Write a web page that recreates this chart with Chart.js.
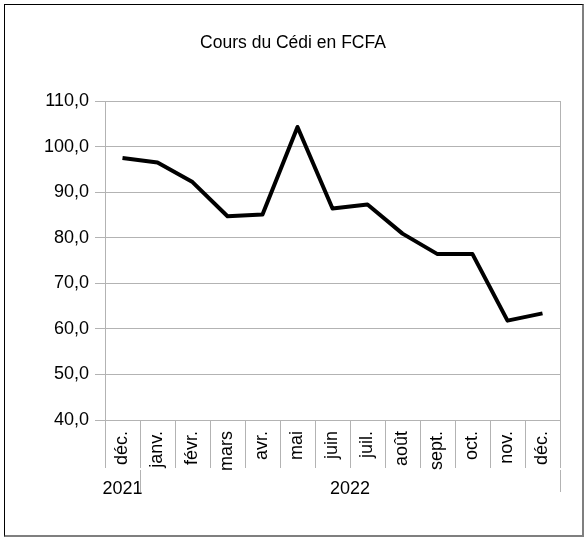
<!DOCTYPE html>
<html lang="fr">
<head>
<meta charset="utf-8">
<title>Cours du Cédi en FCFA</title>
<script src="https://cdn.jsdelivr.net/npm/chart.js@4/dist/chart.umd.min.js"></script>
<style>
  html, body { margin: 0; padding: 0; background: #fff; }
  #wrap { position: relative; width: 587px; height: 541px; }
  #frame {
    position: absolute; left: 4px; top: 4px; width: 577px; height: 530px;
    border-left: 1px solid #000; border-top: 1px solid #000;
    border-right: 2px solid #7f7f7f; border-bottom: 2px solid #7f7f7f;
    pointer-events: none;
  }
</style>
</head>
<body>
<div id="wrap">
  <canvas id="cediChart" width="587" height="541"></canvas>
  <div id="frame"></div>
</div>
<script>
/* ── Données ── */
const months = ['déc.', 'janv.', 'févr.', 'mars', 'avr.', 'mai', 'juin', 'juil.', 'août', 'sept.', 'oct.', 'nov.', 'déc.'];
const monthYears = ['2021', '2022', '2022', '2022', '2022', '2022', '2022', '2022', '2022', '2022', '2022', '2022', '2022'];
const rates = [97.5, 96.5, 92.2, 84.7, 85.1, 104.3, 86.4, 87.3, 80.9, 76.4, 76.4, 61.8, 63.4];
const yTicks = [40, 50, 60, 70, 80, 90, 100, 110];

const GRID = '#b3b3b3';
const FONT = { family: '"Liberation Sans", Arial, sans-serif', size: 18 };

/* ── Groupes d'années (axe hiérarchique) ── */
const yearTicks = [];
let start = 0;
for (let i = 1; i <= monthYears.length; i++) {
  if (i === monthYears.length || monthYears[i] !== monthYears[start]) {
    yearTicks.push({ value: (start + i - 1) / 2, label: monthYears[start] });
    yearTicks.push({ value: i - 0.5, label: '' });
    start = i;
  }
}

document.addEventListener('DOMContentLoaded', () => {
  new Chart(document.getElementById('cediChart'), {
    type: 'line',
    data: {
      labels: months,
      datasets: [{
        data: rates,
        borderColor: '#000',
        borderWidth: 4,
        borderJoinStyle: 'round',
        pointRadius: 0,
        tension: 0
      }]
    },
    options: {
      responsive: false,
      animation: false,
      layout: { padding: { left: 26, right: 27, top: 0, bottom: 43 } },
      plugins: {
        legend: { display: false },
        tooltip: { enabled: false },
        title: {
          display: true,
          text: 'Cours du Cédi en FCFA',
          color: '#000',
          font: { ...FONT, size: 17.5, weight: 'normal' },
          padding: { top: 33, bottom: 47 }
        }
      },
      scales: {
        y: {
          min: yTicks[0],
          max: yTicks[yTicks.length - 1],
          afterFit: s => { s.width = 79; },
          afterBuildTicks: s => { s.ticks = yTicks.map(v => ({ value: v })); },
          ticks: {
            color: '#000',
            font: FONT,
            padding: 6,
            callback: v => v.toFixed(1).replace('.', ',')
          },
          grid: { color: GRID, tickLength: 10 },
          border: { color: GRID }
        },
        x: {
          offset: true,
          afterFit: s => { s.height = 50; },
          ticks: {
            color: '#000',
            font: FONT,
            autoSkip: false,
            minRotation: 90,
            maxRotation: 90,
            padding: -37
          },
          grid: {
            offset: true,
            drawOnChartArea: true,
            tickLength: 48,
            color: ctx => ctx.type === 'tick' ? 'rgba(0,0,0,0)' : GRID,
            tickColor: GRID
          },
          border: { color: GRID }
        },
        year: {
          type: 'linear',
          position: 'bottom',
          weight: 1,
          min: -0.5,
          max: months.length - 0.5,
          afterFit: s => { s.height = 28; },
          afterBuildTicks: s => { s.ticks = yearTicks.map(t => ({ value: t.value })); },
          ticks: {
            color: '#000',
            font: FONT,
            autoSkip: false,
            minRotation: 0,
            maxRotation: 0,
            padding: -14,
            callback: (v, i) => yearTicks[i] ? yearTicks[i].label : ''
          },
          grid: {
            drawOnChartArea: false,
            tickLength: 22,
            tickColor: ctx => (ctx.tick && yearTicks[ctx.index] && yearTicks[ctx.index].label === '') ? GRID : 'rgba(0,0,0,0)'
          },
          border: { display: false }
        }
      }
    }
  });
});
</script>
</body>
</html>
